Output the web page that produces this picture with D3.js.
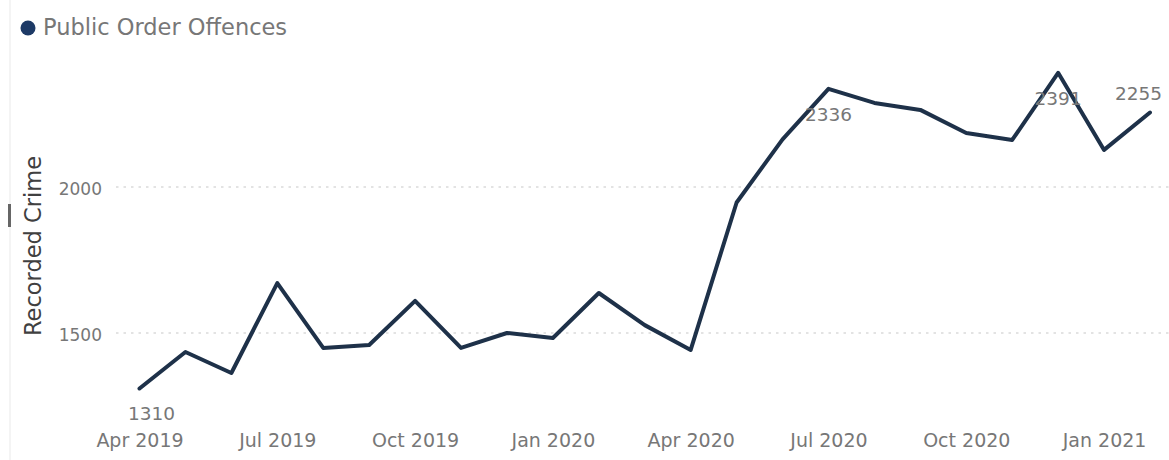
<!DOCTYPE html>
<html>
<head>
<meta charset="utf-8">
<script src="https://cdn.jsdelivr.net/npm/d3@7"></script>
<style>
  html, body { margin: 0; padding: 0; background: #ffffff; }
  svg { display: block; font-family: "DejaVu Sans", sans-serif; }
</style>
</head>
<body>
<svg id="chart" width="1169" height="460"></svg>
<script>
// ---- data ----
const months = [
  "Apr 2019","May 2019","Jun 2019","Jul 2019","Aug 2019","Sep 2019","Oct 2019","Nov 2019","Dec 2019",
  "Jan 2020","Feb 2020","Mar 2020","Apr 2020","May 2020","Jun 2020","Jul 2020","Aug 2020","Sep 2020",
  "Oct 2020","Nov 2020","Dec 2020","Jan 2021","Feb 2021"
];
const publicOrderOffences = [
  1310, 1435, 1363, 1671, 1449, 1459, 1610, 1449, 1500,
  1483, 1637, 1527, 1442, 1947, 2163, 2336, 2288, 2264,
  2185, 2161, 2391, 2127, 2255
];
const xTickLabels = ["Apr 2019","Jul 2019","Oct 2019","Jan 2020","Apr 2020","Jul 2020","Oct 2020","Jan 2021"];
const yTickValues = [1500, 2000];
const labelledMonths = ["Apr 2019","Jul 2020","Dec 2020","Feb 2021"];
const seriesName = "Public Order Offences";
const yTitle = "Recorded Crime";

// ---- layout ----
const svg = d3.select("#chart");
const W = 1169, H = 460;
const lineColor = "#1e3149";
const dotColor = "#1d3a66";

const x = d3.scalePoint().domain(months).range([139.5, 1150]);
const y = d3.scaleLinear().domain([1000, 2500]).range([479, 41]);

// faint left frame artifact
svg.append("line").attr("x1", 10).attr("x2", 10).attr("y1", 0).attr("y2", H)
  .attr("stroke", "#f0f0f0").attr("stroke-width", 1.5);
svg.append("rect").attr("x", 8).attr("y", 204).attr("width", 3).attr("height", 23)
  .attr("fill", "#666");

// gridlines
const grid = svg.append("g").attr("class", "grid");
grid.selectAll("line").data(yTickValues).enter().append("line")
  .attr("x1", 116).attr("x2", W)
  .attr("y1", d => y(d)).attr("y2", d => y(d))
  .attr("stroke", "#dadada").attr("stroke-width", 1.5)
  .attr("stroke-dasharray", "2.5,5");

// y axis
const yAxis = d3.axisLeft(y).tickValues(yTickValues).tickSize(0).tickPadding(0).tickFormat(d3.format("d"));
const yG = svg.append("g").attr("transform", "translate(102,0)").call(yAxis);
yG.select(".domain").remove();
yG.selectAll("text").attr("fill", "#777").attr("font-size", "17px")
  .attr("font-family", "DejaVu Sans, sans-serif").attr("dy", "0.42em");

// x axis
const xAxis = d3.axisBottom(x).tickValues(xTickLabels).tickSize(0).tickPadding(0);
const xG = svg.append("g").attr("transform", "translate(0,447)").call(xAxis);
xG.select(".domain").remove();
xG.selectAll("text").attr("fill", "#777").attr("font-size", "19px")
  .attr("font-family", "DejaVu Sans, sans-serif").attr("dy", "0");

// y title
svg.append("text")
  .attr("transform", "translate(41,246) rotate(-90)")
  .attr("text-anchor", "middle")
  .attr("fill", "#404040")
  .attr("font-size", "22.5px")
  .text(yTitle);

// legend
svg.append("circle").attr("cx", 28).attr("cy", 28).attr("r", 7.5).attr("fill", dotColor);
svg.append("text").attr("x", 43).attr("y", 35)
  .attr("fill", "#777").attr("font-size", "22.5px").text(seriesName);

// line
const data = months.map((m, i) => ({ m, v: publicOrderOffences[i] }));
const line = d3.line().x(d => x(d.m)).y(d => y(d.v));
svg.append("path").datum(data)
  .attr("d", line)
  .attr("fill", "none")
  .attr("stroke", lineColor)
  .attr("stroke-width", 4)
  .attr("stroke-linejoin", "round")
  .attr("stroke-linecap", "round");

// data labels
const labelData = data.filter(d => labelledMonths.includes(d.m));
const labels = svg.append("g").selectAll("text").data(labelData).enter().append("text")
  .attr("fill", "#777").attr("font-size", "18.5px")
  .attr("text-anchor", "middle")
  .text(d => d.v);
labels.each(function(d) {
  const t = d3.select(this);
  const w = this.getComputedTextLength();
  let cx = x(d.m);
  const minL = 128, maxR = 1162;
  if (cx - w / 2 < minL) cx = minL + w / 2;
  if (cx + w / 2 > maxR) cx = maxR - w / 2;
  const idx = months.indexOf(d.m);
  const last = idx === months.length - 1;
  const yy = last ? y(d.v) - 13 : y(d.v) + 32;
  t.attr("x", cx).attr("y", yy);
});
</script>
</body>
</html>
